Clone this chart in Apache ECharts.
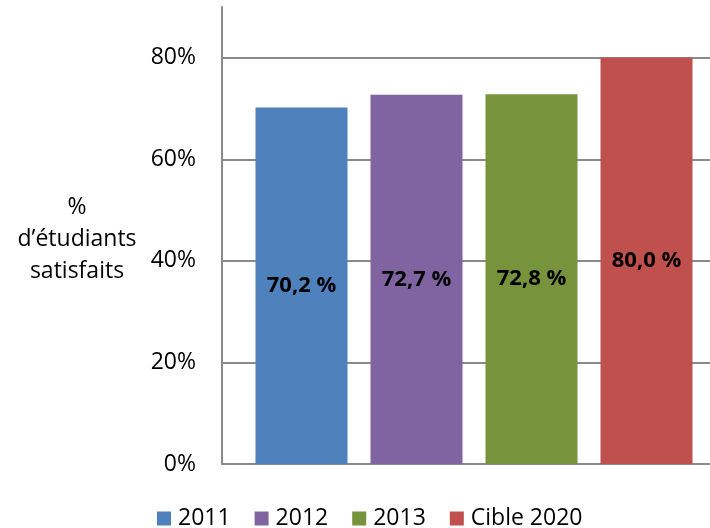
<!DOCTYPE html>
<html>
<head>
<meta charset="utf-8">
<script src="https://cdn.jsdelivr.net/npm/echarts@6/dist/echarts.min.js"></script>
<style>
  html, body { margin: 0; padding: 0; background: #fff; }
  #chart { width: 710px; height: 528px; }
</style>
</head>
<body>
<div id="chart"></div>
<script>
// données
const seriesNames = ["2011", "2012", "2013", "Cible 2020"];
const satisfaction = [70.2, 72.7, 72.8, 80.0];
const categories = [""];
const barColors = ["#4F81BD", "#8064A2", "#77933C", "#C0504D"];

const chart = echarts.init(document.getElementById("chart"));
const font = "'Open Sans', sans-serif";

chart.setOption({
  animation: false,
  textStyle: { fontFamily: font },
  // la zone de tracé déborde à droite, comme sur l'original
  grid: { left: 222, top: 7, bottom: 64, right: -16, outerBoundsMode: "none" },
  legend: {
    left: 157,
    top: 507,
    padding: 0,
    itemWidth: 14,
    itemHeight: 14,
    itemGap: 24,
    icon: "rect",
    textStyle: { fontSize: 23, color: "#000", fontFamily: font, padding: [0, 0, 0, 2] },
    data: seriesNames
  },
  xAxis: {
    type: "category",
    data: categories,
    axisTick: { show: false },
    axisLabel: { show: false },
    axisLine: { lineStyle: { color: "#8a8a8a", width: 2 } }
  },
  yAxis: {
    type: "value",
    min: 0,
    max: 90,
    interval: 20,
    name: "{gap|}\n%\nd’étudiants\nsatisfaits",
    nameLocation: "middle",
    nameRotate: 0,
    nameGap: 145,
    nameTextStyle: {
      fontSize: 23, color: "#000", align: "center", lineHeight: 32, fontFamily: font,
      rich: { gap: { lineHeight: 8, fontSize: 8 } }
    },
    axisLine: { show: true, lineStyle: { color: "#8a8a8a", width: 2 } },
    axisTick: { show: false },
    axisLabel: {
      margin: 26,
      fontSize: 23,
      color: "#000",
      showMaxLabel: false,
      formatter: v => v + "%"
    },
    splitLine: { showMaxLine: false, lineStyle: { color: "#8a8a8a", width: 2 } }
  },
  series: seriesNames.map((name, i) => ({
    name: name,
    type: "bar",
    barWidth: 92,
    barGap: "25%",
    itemStyle: { color: barColors[i] },
    label: {
      show: true,
      position: "inside",
      color: "#000",
      fontWeight: "bold",
      fontSize: 22,
      formatter: p => p.value.toFixed(1).replace(".", ",") + " %"
    },
    data: [satisfaction[i]]
  }))
});
</script>
</body>
</html>
